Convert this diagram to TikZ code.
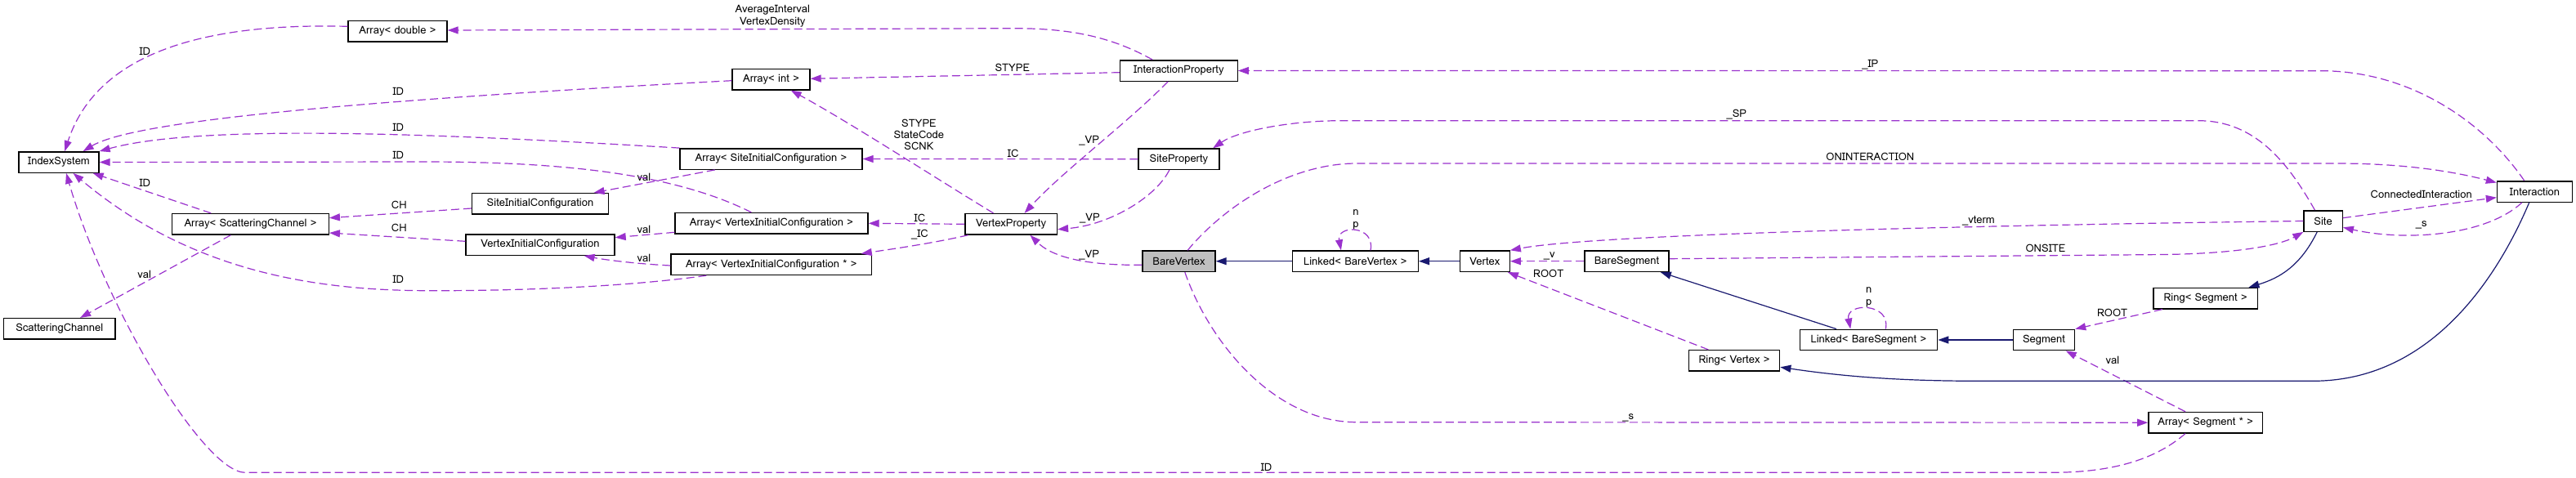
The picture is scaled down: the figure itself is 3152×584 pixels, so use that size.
\documentclass[tikz,border=0pt]{standalone}
\usepackage{fontspec}
\newfontfamily\lomafont{Loma}
\usetikzlibrary{arrows.meta}
\definecolor{purp}{HTML}{9A32CD}
\definecolor{navy}{HTML}{191970}
\definecolor{bvgray}{HTML}{BFBFBF}
\begin{document}
\begin{tikzpicture}[x=1pt,y=-1pt,
  box/.style={draw=black, line width=1.4pt, fill=white, minimum height=25.4pt, inner sep=0pt, font=\lomafont\fontsize{13}{15}\selectfont},
  lbl/.style={inner sep=0pt, font=\lomafont\fontsize{13}{15}\selectfont, align=center},
  uses/.style={draw=purp, line width=1.2pt, dash pattern=on 10pt off 5pt, -{Triangle[length=13pt,width=9pt]}},
  inh/.style={draw=navy, line width=1.2pt, -{Triangle[length=13pt,width=9pt]}},
]
\fill[white] (0,0) rectangle (3152,584);
\useasboundingbox (0,0) rectangle (3152,584);

% nodes
\node[box, minimum width=98pt] (IndexSystem) at (72,198.5) {IndexSystem};
\node[box, minimum width=121pt] (ArrDouble) at (486.5,38.3) {Array< double >};
\node[box, minimum width=95pt] (ArrInt) at (943.5,97.2) {Array< int >};
\node[box, minimum width=223pt] (ArrSIC) at (943.5,194.5) {Array< SiteInitialConfiguration >};
\node[box, minimum width=167pt] (SIC) at (661,249.3) {SiteInitialConfiguration};
\node[box, minimum width=236pt] (ArrVIC) at (944,273.3) {Array< VertexInitialConfiguration >};
\node[box, minimum width=182pt] (VIC) at (661,299.5) {VertexInitialConfiguration};
\node[box, minimum width=245.5pt] (ArrVICp) at (943.8,323.8) {Array< VertexInitialConfiguration * >};
\node[box, minimum width=191.5pt] (ArrSC) at (306.5,274.3) {Array< ScatteringChannel >};
\node[box, minimum width=136.7pt] (ScatCh) at (72.8,402.3) {ScatteringChannel};
\node[box, minimum width=143.6pt] (IntProp) at (1442.4,86.5) {InteractionProperty};
\node[box, minimum width=98.8pt] (SiteProp) at (1442.4,194.7) {SiteProperty};
\node[box, minimum width=112.6pt] (VertProp) at (1237.1,274.3) {VertexProperty};
\node[box, minimum width=89pt, fill=bvgray] (BareVertex) at (1442.5,319.7) {BareVertex};
\node[box, minimum width=154pt] (LinkedBV) at (1658.3,319.7) {Linked< BareVertex >};
\node[box, minimum width=60.6pt] (Vertex) at (1816.9,319.7) {Vertex};
\node[box, minimum width=103.3pt] (BareSegment) at (1990.5,319.7) {BareSegment};
\node[box, minimum width=111.3pt] (RingVertex) at (2122,441.3) {Ring< Vertex >};
\node[box, minimum width=168.4pt] (LinkedBS) at (2286.4,416) {Linked< BareSegment >};
\node[box, minimum width=75pt] (Segment) at (2501,416) {Segment};
\node[box, minimum width=47.2pt] (Site) at (2842.6,270.5) {Site};
\node[box, minimum width=92pt] (Interaction) at (3101.5,234.5) {Interaction};
\node[box, minimum width=127.4pt] (RingSegment) at (2698.6,365.2) {Ring< Segment >};
\node[box, minimum width=139.4pt] (ArrSegp) at (2698.6,517.2) {Array< Segment * >};

% labels
\node[lbl] (l1) at (177.3,63.3) {ID};
\node[lbl] (l2) at (487.3,111.7) {ID};
\node[lbl] (l3) at (487.3,156) {ID};
\node[lbl] (l4) at (487.3,190) {ID};
\node[lbl] (l5) at (177.3,224.3) {ID};
\node[lbl] (l6) at (487.3,342.3) {ID};
\node[lbl] (l7) at (1549.6,571.7) {ID};
\node[lbl] (l8) at (176.7,335.7) {val};
\node[lbl] (l9) at (488.3,251) {CH};
\node[lbl] (l10) at (488.3,279.3) {CH};
\node[lbl] (l11) at (787.9,216.7) {val};
\node[lbl] (l12) at (787.9,280.7) {val};
\node[lbl] (l13) at (787.9,315.7) {val};
\node[lbl] (l14) at (945.3,19.8) {AverageInterval\\VertexDensity};
\node[lbl] (l15) at (1238.7,83.3) {STYPE};
\node[lbl, font=\lomafont\fontsize{13}{14}\selectfont] (l16) at (1124.4,165) {STYPE\\StateCode\\SCNK};
\node[lbl] (l17) at (1239.7,187.7) {IC};
\node[lbl] (l18) at (1332.7,172.3) {\_VP};
\node[lbl] (l19) at (1333.4,266.7) {\_VP};
\node[lbl] (l20) at (1332.7,311.7) {\_VP};
\node[lbl] (l21) at (1992.2,511) {\_s};
\node[lbl] (l22) at (2124.8,140) {\_SP};
\node[lbl] (l23) at (2288.3,79) {\_IP};
\node[lbl] (l24) at (2288.3,192.3) {ONINTERACTION};
\node[lbl] (l25) at (2962.7,238.3) {ConnectedInteraction};
\node[lbl] (l26) at (2962.7,275) {\_s};
\node[lbl] (l27) at (2420.9,270.7) {\_vterm};
\node[lbl] (l28) at (1895.7,313.3) {\_v};
\node[lbl] (l29) at (1894.7,335) {ROOT};
\node[lbl] (l30) at (2584.5,383.3) {ROOT};
\node[lbl] (l31) at (2584.8,440.7) {val};
\node[lbl] (l32) at (1659,268.5) {n\\p};
\node[lbl] (l33) at (2286.8,364.2) {n\\p};
\node[lbl] (l34) at (1125.4,266.7) {IC};
\node[lbl] (l35) at (1125.4,287.3) {\_IC};
\node[lbl] (l36) at (2502.9,304.3) {ONSITE};

% usage edges
\draw[uses] ([yshift=6pt]ArrDouble.west) .. controls (260,28) and (120,60) .. ([xshift=7.2pt]IndexSystem.north);
\draw[uses] ([yshift=-1.5pt]ArrInt.west) .. controls (400,125) and (160,150) .. ([xshift=29.6pt]IndexSystem.north);
\draw[uses] (ArrSIC.north west) .. controls (560,165) and (250,150) .. (IndexSystem.north east);
\draw[uses] ([xshift=-24.6pt]ArrVIC.north) .. controls (830,215) and (700,198) .. (520,198) -- (IndexSystem.east);
\draw[uses] ([xshift=-48.2pt]ArrSC.north) -- ([xshift=41.6pt]IndexSystem.south);
\draw[uses] ([xshift=-79.4pt]ArrVICp.south) .. controls (760,352) and (620,356) .. (527,355.7) .. controls (380,356) and (230,330) .. ([xshift=17.5pt]IndexSystem.south);
\draw[uses] ([xshift=-24.6pt]ArrSegp.south) .. controls (2640,560) and (2590,578.3) .. (2510,578.3) -- (300,578.3) .. controls (250,578.3) and (130,380) .. ([xshift=9pt]IndexSystem.south);
\draw[uses] ([xshift=-24.1pt]ArrSC.south) -- ([xshift=25.3pt]ScatCh.north);
\draw[uses] ([yshift=-5.7pt]SIC.west) -- ([yshift=7.6pt]ArrSC.east);
\draw[uses] ([yshift=4.2pt]VIC.west) -- ([yshift=-10.7pt]ArrSC.east);
\draw[uses] ([xshift=-68.8pt]ArrSIC.south) -- ([xshift=65.6pt]SIC.north);
\draw[uses] ([yshift=-11pt]ArrVIC.west) -- ([yshift=8.8pt]VIC.east);
\draw[uses] ([yshift=-1.2pt]ArrVICp.west) .. controls (780,323) and (740,318) .. ([xshift=53.6pt]VIC.south);
\draw[uses] ([xshift=-32.2pt]IntProp.north) .. controls (1360,45) and (1310,34.7) .. (1240,34.7) -- ([yshift=1.3pt]ArrDouble.east);
\draw[uses] ([yshift=-2.2pt]IntProp.west) -- ([yshift=0.9pt]ArrInt.east);
\draw[uses] ([xshift=-21.5pt]VertProp.north) .. controls (1140,215) and (1040,150) .. ([xshift=24.2pt]ArrInt.south);
\draw[uses] (SiteProp.west) -- (ArrSIC.east);
\draw[uses] ([xshift=-13.3pt]IntProp.south) .. controls (1380,150) and (1300,210) .. ([xshift=16.4pt]VertProp.north);
\draw[uses] ([xshift=-11.6pt]SiteProp.south) .. controls (1415,240) and (1360,275) .. ([yshift=-6.4pt]VertProp.east);
\draw[uses] ([yshift=-4.6pt]BareVertex.west) .. controls (1320,325) and (1285,312) .. ([xshift=23.3pt]VertProp.south);
\draw[uses] ([xshift=7.3pt]BareVertex.south) .. controls (1480,420) and (1560,516.7) .. (1660,516.7) -- (ArrSegp.west);
\draw[uses] ([xshift=-10.2pt]Site.north) .. controls (2800,200) and (2760,147.7) .. (2690,147.7) -- (1640,147.7) .. controls (1580,147.7) and (1515,160) .. ([xshift=41.8pt]SiteProp.north);
\draw[uses] ([xshift=-12.8pt]Interaction.north) .. controls (3040,150) and (2950,86.7) .. (2840,86.7) -- (IntProp.east);
\draw[uses] ([xshift=10.7pt]BareVertex.north) .. controls (1500,250) and (1580,200) .. (1660,200) -- (2860,200) .. controls (2950,200) and (3010,212) .. ([yshift=11pt]Interaction.west);
\draw[uses] ([yshift=3.8pt]Site.east) -- ([yshift=-7.2pt]Interaction.west);
\draw[uses] ([xshift=-15.6pt]Interaction.south) .. controls (3040,290) and (2940,295) .. ([yshift=-7.8pt]Site.east);
\draw[uses] (Site.west) .. controls (2400,276) and (1950,287) .. (Vertex.north east);
\draw[uses] ([yshift=3pt]BareSegment.east) -- (2650,311.5) .. controls (2740,310) and (2790,300) .. (Site.south west);
\draw[uses] (BareSegment.west) -- (Vertex.east);
\draw[uses] ([xshift=-31.7pt]RingVertex.north) -- ([xshift=28pt]Vertex.south);
\draw[uses] ([xshift=-52.8pt]RingSegment.south) -- (Segment.north east);
\draw[uses] ([xshift=-24.6pt]ArrSegp.north) -- ([xshift=26.7pt]Segment.south);
\draw[uses] ([xshift=18.7pt]LinkedBV.north) .. controls (1683,275) and (1635,275) .. ([xshift=-17.4pt]LinkedBV.north);
\draw[uses] ([xshift=20.9pt]LinkedBS.north) .. controls (2314,370) and (2258,370) .. ([xshift=-22.2pt]LinkedBS.north);
\draw[uses] (VertProp.west) -- (ArrVIC.east);
\draw[uses] ([xshift=-52.5pt]VertProp.south) .. controls (1140,298) and (1090,305) .. ([xshift=110pt]ArrVICp.north);

% inheritance edges
\draw[inh] (LinkedBV.west) -- (BareVertex.east);
\draw[inh] (Vertex.west) -- (LinkedBV.east);
\draw[inh] (Segment.west) -- (LinkedBS.east);
\draw[inh] ([xshift=-39.4pt]LinkedBS.north) -- ([xshift=41.3pt]BareSegment.south);
\draw[inh] ([xshift=-7.4pt]Site.south) .. controls (2815,325) and (2790,340) .. ([xshift=52.8pt]RingSegment.north);
\draw[inh] ([xshift=-6.8pt]Interaction.south) .. controls (3060,330) and (2980,466.3) .. (2830,466.3) -- (2420,466.3) .. controls (2320,466.3) and (2250,460) .. ([yshift=-8pt]RingVertex.east);
\end{tikzpicture}
\end{document}
